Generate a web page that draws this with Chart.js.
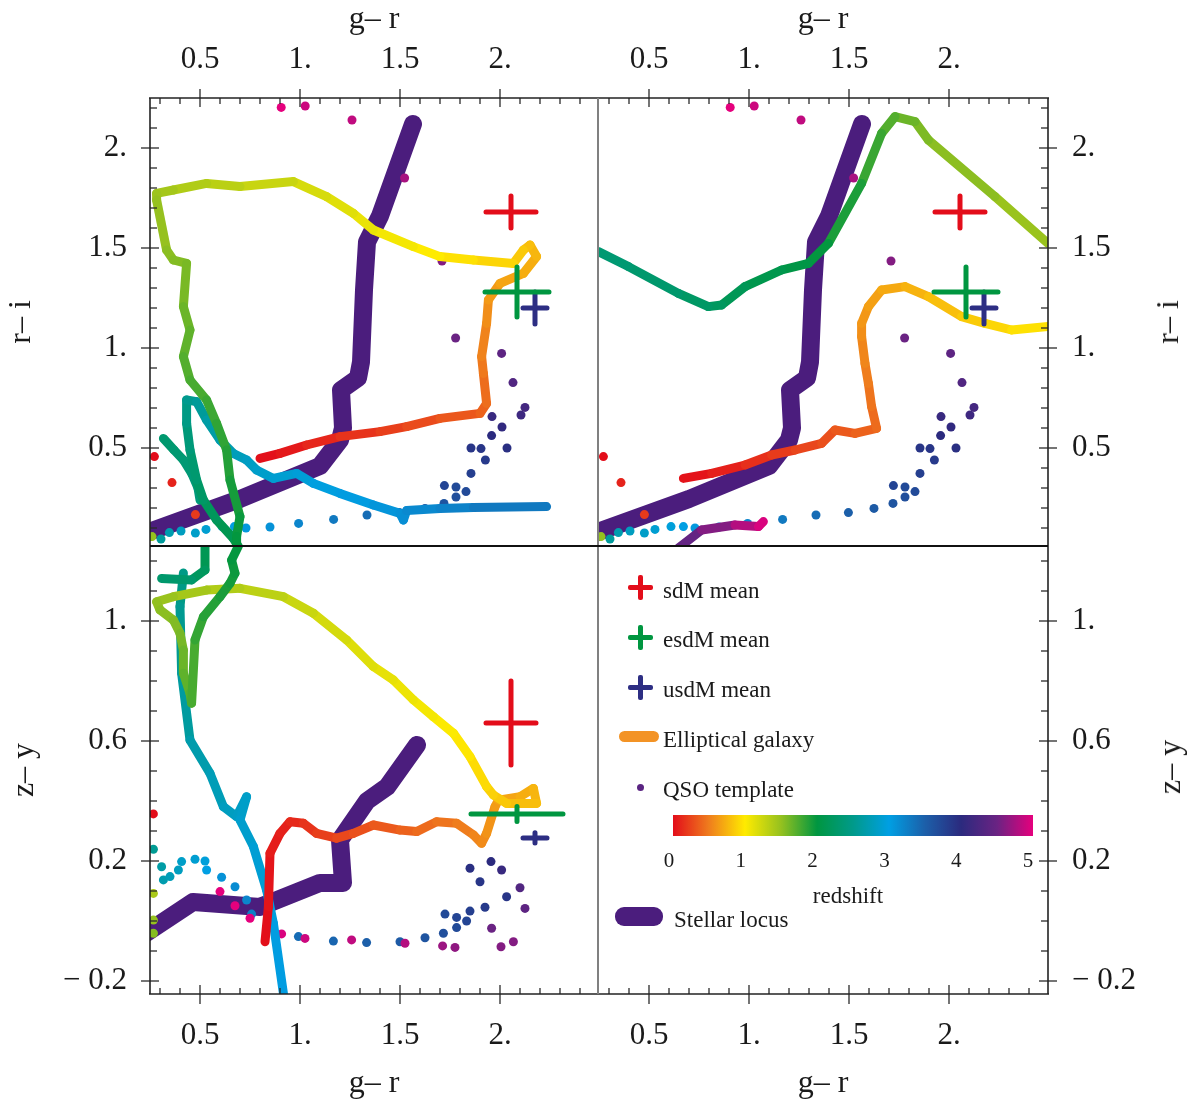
<!DOCTYPE html>
<html><head><meta charset="utf-8">
<script src="https://cdn.jsdelivr.net/npm/chart.js@4.4.0/dist/chart.umd.min.js"></script>
<style>
body{margin:0;background:#fff;width:1196px;height:1102px;position:relative;overflow:hidden;font-family:"Liberation Serif",serif;}
canvas{position:absolute;}
.t{position:absolute;font-family:"Liberation Serif",serif;color:#1a1a1a;white-space:nowrap;}
.rot{transform:translate(-50%,-50%) rotate(-90deg);font-size:32px;line-height:32px;}
.bar{position:absolute;}
</style></head><body>
<canvas id="tl" width="598" height="546" style="left:0;top:0"></canvas>
<canvas id="tr" width="598" height="546" style="left:598px;top:0"></canvas>
<canvas id="bl" width="598" height="556" style="left:0;top:546px"></canvas>
<canvas id="br" width="598" height="556" style="left:598px;top:546px"></canvas>
<div class="bar" style="left:597px;top:98px;width:2px;height:896px;background:#808080"></div>
<div class="bar" style="left:150px;top:545px;width:898px;height:1.5px;background:#111"></div>
<div class="t rot" style="left:1167px;top:322px">r&#8211; i</div>
<div class="t rot" style="left:1169px;top:767px">z&#8211; y</div>
<div id="legend"></div>
<script>
// ---------------- data ----------------
const xTicks = [0.5, 1, 1.5, 2];
const xTickLabels = ['0.5', '1.', '1.5', '2.'];
const riTicks = [0.5, 1, 1.5, 2];
const riTickLabels = ['0.5', '1.', '1.5', '2.'];
const zyTicks = [-0.2, 0.2, 0.6, 1];
const zyTickLabels = ['\u2212 0.2', '0.2', '0.6', '1.'];
const redshiftLabels = ['0', '1', '2', '3', '4', '5'];

// stellar locus (g-r, r-i) and (g-r, z-y)
const locusTop = [[0.23,0.075],[0.7,0.245],[1.1,0.41],[1.2,0.54],[1.215,0.6],[1.205,0.79],[1.29,0.85],[1.305,0.93],[1.32,1.29],[1.335,1.53],[1.4,1.66],[1.565,2.12]];
const locusBot = [[0.22,-0.045],[0.465,0.063],[0.8,0.047],[1.1,0.127],[1.215,0.127],[1.2,0.27],[1.335,0.40],[1.435,0.447],[1.585,0.587]];

// mean positions [g-r, colour, err g-r, err colour]
const sdmTop = [2.055,1.68,0.125,0.08];
const esdmTop = [2.085,1.28,0.16,0.125];
const usdmTop = [2.175,1.20,0.06,0.08];
const sdmBot = [2.055,0.66,0.125,0.14];
const esdmBot = [2.085,0.357,0.23,0.025];
const usdmBot = [2.175,0.277,0.06,0.017];

// QSO template dots [g-r, r-i, redshift]
const qsoTop = [[0.272,0.457,0.0],[0.36,0.327,0.1],[0.477,0.167,0.2],[0.26,0.057,1.5],[0.305,0.045,2.6],[0.347,0.077,2.7],[0.405,0.085,2.8],[0.477,0.075,2.85],[0.53,0.093,2.9],[0.61,0.107,2.95],[0.672,0.107,3.0],[0.73,0.1,3.05],[0.85,0.105,3.1],[0.993,0.123,3.2],[1.168,0.143,3.3],[1.335,0.165,3.4],[1.497,0.177,3.5],[1.625,0.198,3.55],[1.72,0.223,3.6],[1.78,0.255,3.65],[1.83,0.282,3.7],[1.78,0.305,3.7],[1.722,0.312,3.75],[1.855,0.373,3.8],[1.927,0.44,3.85],[1.855,0.5,3.9],[1.905,0.497,3.9],[2.035,0.5,3.95],[1.958,0.562,4.0],[2.01,0.605,4.05],[1.96,0.657,4.1],[2.105,0.665,4.15],[2.125,0.703,4.2],[2.065,0.827,4.3],[2.008,0.973,4.4],[1.778,1.05,4.5],[1.71,1.435,4.6],[1.523,1.85,4.75],[1.26,2.14,4.85],[1.026,2.21,4.9],[0.906,2.203,5.0]];
// QSO template dots [g-r, z-y, redshift]
const qsoBot = [[0.267,0.357,0.0],[0.267,0.092,1.4],[0.267,0.003,1.5],[0.267,-0.041,1.55],[0.267,0.239,2.55],[0.308,0.181,2.65],[0.317,0.137,2.7],[0.35,0.148,2.75],[0.392,0.17,2.8],[0.408,0.198,2.85],[0.475,0.206,2.9],[0.525,0.2,2.95],[0.533,0.17,3.0],[0.608,0.146,3.1],[0.675,0.114,3.15],[0.733,0.07,3.2],[0.758,0.023,3.25],[0.992,-0.052,3.4],[1.167,-0.067,3.45],[1.333,-0.072,3.5],[1.5,-0.069,3.55],[1.625,-0.056,3.6],[1.717,-0.041,3.65],[1.783,-0.022,3.7],[1.725,0.023,3.7],[1.783,0.012,3.75],[1.833,0.0,3.75],[1.85,0.033,3.8],[1.925,0.046,3.85],[2.033,0.081,3.9],[1.9,0.131,3.9],[1.85,0.176,3.95],[1.955,0.198,4.0],[2.008,0.17,4.1],[2.1,0.111,4.3],[2.125,0.042,4.4],[1.958,-0.024,4.5],[2.067,-0.069,4.6],[2.005,-0.086,4.6],[1.775,-0.088,4.65],[1.713,-0.083,4.7],[1.525,-0.074,4.8],[1.258,-0.063,4.85],[1.025,-0.058,4.9],[0.908,-0.043,4.95],[0.75,0.009,5.0],[0.675,0.051,5.0],[0.6,0.098,5.0]];

// galaxy tracks [g-r, colour, redshift]
const galTL1 = [[0.8,0.448,0.0],[0.9,0.473,0.03],[1.033,0.515,0.08],[1.2,0.557,0.14],[1.4,0.582,0.2],[1.533,0.607,0.25],[1.7,0.648,0.3],[1.9,0.673,0.36],[1.933,0.723,0.4],[1.917,0.873,0.46],[1.908,0.957,0.5],[1.933,1.123,0.55],[1.942,1.24,0.6],[2.0,1.323,0.65],[2.117,1.373,0.7],[2.183,1.457,0.74],[2.15,1.515,0.78],[2.117,1.49,0.82],[2.067,1.423,0.87],[1.867,1.44,0.93],[1.7,1.457,0.98],[1.567,1.507,1.02],[1.367,1.59,1.08],[1.267,1.673,1.12],[1.133,1.757,1.17],[0.967,1.832,1.22],[0.7,1.807,1.3],[0.533,1.823,1.35],[0.367,1.79,1.4],[0.283,1.773,1.45],[0.283,1.74,1.47],[0.333,1.49,1.52],[0.367,1.44,1.55],[0.433,1.423,1.57],[0.417,1.207,1.62],[0.45,1.09,1.66],[0.417,0.957,1.7],[0.45,0.84,1.74],[0.533,0.74,1.78],[0.583,0.623,1.82],[0.633,0.49,1.86],[0.65,0.34,1.9],[0.7,0.157,1.95],[0.683,0.057,1.98],[0.683,0.0,2.0]];
const galTL2 = [[0.692,0.007,2.05],[0.667,0.048,2.08],[0.583,0.14,2.15],[0.517,0.24,2.22],[0.483,0.34,2.28],[0.45,0.49,2.35],[0.433,0.623,2.42],[0.433,0.74,2.5],[0.483,0.732,2.55],[0.533,0.64,2.62],[0.6,0.54,2.68],[0.667,0.473,2.74],[0.733,0.44,2.8],[0.783,0.39,2.84],[0.867,0.348,2.88],[0.983,0.373,2.92],[1.067,0.323,2.95],[1.2,0.273,3.0],[1.367,0.215,3.05],[1.5,0.173,3.1],[1.517,0.14,3.12],[1.533,0.187,3.14],[1.7,0.198,3.2],[1.867,0.203,3.25],[2.233,0.207,3.35]];
const galTL3 = [[0.317,0.548,2.3],[0.37,0.49,2.32],[0.417,0.44,2.34],[0.46,0.37,2.36],[0.49,0.3,2.38],[0.5,0.24,2.4]];
const galTR1 = [[0.672,0.348,0.0],[0.813,0.373,0.05],[0.98,0.415,0.12],[1.113,0.465,0.18],[1.23,0.49,0.23],[1.363,0.523,0.28],[1.43,0.59,0.32],[1.53,0.573,0.36],[1.638,0.598,0.4],[1.613,0.707,0.44],[1.597,0.823,0.48],[1.58,0.923,0.52],[1.563,1.057,0.56],[1.563,1.123,0.6],[1.597,1.207,0.64],[1.663,1.29,0.68],[1.78,1.307,0.72],[1.897,1.257,0.77],[2.063,1.157,0.83],[2.18,1.123,0.88],[2.313,1.09,0.93],[2.495,1.107,0.98]];
const galTR2 = [[2.495,1.523,1.45],[2.23,1.757,1.5],[1.897,2.04,1.56],[1.83,2.132,1.6],[1.73,2.157,1.68],[1.663,2.073,1.76],[1.563,1.823,1.86],[1.397,1.523,1.96],[1.297,1.423,2.02],[1.163,1.39,2.06],[0.98,1.307,2.12],[0.863,1.215,2.18],[0.797,1.207,2.22],[0.647,1.273,2.27],[0.397,1.407,2.32],[0.247,1.482,2.35]];
const galTR3 = [[0.647,0.0,4.4],[0.763,0.09,4.5],[0.93,0.115,4.7],[1.047,0.107,4.9],[1.072,0.132,5.0]];
const galBL1 = [[0.825,-0.069,0.0],[0.842,0.048,0.02],[0.85,0.226,0.05],[0.9,0.292,0.08],[0.95,0.331,0.1],[1.017,0.326,0.15],[1.083,0.292,0.2],[1.183,0.276,0.25],[1.267,0.292,0.28],[1.367,0.32,0.32],[1.5,0.303,0.36],[1.583,0.298,0.4],[1.683,0.331,0.44],[1.783,0.326,0.48],[1.867,0.287,0.52],[1.908,0.259,0.55],[1.933,0.292,0.58],[1.975,0.381,0.62],[1.992,0.403,0.66],[2.1,0.414,0.7],[2.167,0.442,0.74],[2.183,0.392,0.77],[2.033,0.392,0.82],[1.967,0.42,0.86],[1.933,0.448,0.9],[1.85,0.548,0.95],[1.767,0.626,1.0],[1.667,0.681,1.03],[1.567,0.737,1.07],[1.467,0.803,1.1],[1.367,0.848,1.13],[1.233,0.937,1.18],[1.067,1.026,1.23],[0.917,1.081,1.28],[0.7,1.109,1.35],[0.533,1.103,1.4],[0.367,1.081,1.45],[0.283,1.064,1.5],[0.3,1.037,1.52],[0.367,1.003,1.55],[0.4,0.959,1.58],[0.417,0.903,1.62],[0.417,0.826,1.66],[0.45,0.759,1.7],[0.458,0.726,1.72],[0.475,0.937,1.8],[0.517,1.014,1.85],[0.6,1.081,1.9],[0.65,1.126,1.93],[0.675,1.159,1.95],[0.658,1.203,1.97],[0.692,1.25,2.0]];
const galBL2 = [[0.525,1.25,2.1],[0.525,1.17,2.15],[0.458,1.137,2.25],[0.308,1.142,2.35]];
const galBL3 = [[0.417,1.16,2.45],[0.4,1.048,2.5],[0.408,0.826,2.58],[0.45,0.603,2.66],[0.55,0.492,2.72],[0.617,0.381,2.78],[0.683,0.348,2.81],[0.733,0.414,2.84],[0.7,0.337,2.86],[0.767,0.248,2.89],[0.833,0.103,2.94],[0.867,-0.008,2.98],[0.917,-0.241,3.05]];

// ---------------- styles ----------------
const CMAP = [[0,'#e30d1a'],[0.5,'#ef7d1d'],[1,'#ffeb00'],[1.5,'#95c11f'],[2,'#009640'],[2.5,'#009a8a'],[3,'#009fe3'],[3.5,'#1c5fa9'],[4,'#2b2a7e'],[4.5,'#6a2383'],[5,'#e5007d']];
const LOCUS = '#4b1d7d', RED='#e30d1a', GREEN='#009640', NAVY='#2d2e83', ORANGE='#f39325';
function hex(c){return [1,3,5].map(i=>parseInt(c.substr(i,2),16));}
function cmap(z){
  z=Math.max(0,Math.min(5,z));
  for(let i=0;i<CMAP.length-1;i++){
    const a=CMAP[i],b=CMAP[i+1];
    if(z<=b[0]){const t=(z-a[0])/(b[0]-a[0]);const A=hex(a[1]),B=hex(b[1]);
      return 'rgb('+A.map((v,k)=>Math.round(v+(B[k]-v)*t)).join(',')+')';}
  }
  return CMAP[CMAP.length-1][1];
}
const pts = arr => arr.map(p=>({x:p[0],y:p[1]}));
function trackDS(arr){
  return {data:pts(arr),borderWidth:9,pointRadius:0,tension:0,clip:0,order:1,
    borderCapStyle:'round',borderJoinStyle:'round',borderColor:cmap(arr[0][2]),
    segment:{borderColor:c=>cmap((arr[c.p0DataIndex][2]+arr[c.p1DataIndex][2])/2)}};
}
function locusDS(arr){
  return {data:pts(arr),borderWidth:18,borderColor:LOCUS,pointRadius:0,tension:0,clip:0,order:3,borderCapStyle:'round',borderJoinStyle:'round'};
}
function dotsDS(arr){
  return {data:pts(arr),showLine:false,pointRadius:4.5,pointBorderWidth:0,pointBackgroundColor:arr.map(p=>cmap(p[2])),clip:0,order:2};
}
function crossDS(c,color){
  return {data:[{x:c[0]-c[2],y:c[1]},{x:c[0]+c[2],y:c[1]},{x:c[0],y:null},{x:c[0],y:c[1]-c[3]},{x:c[0],y:c[1]+c[3]}],
    borderColor:color,borderWidth:5,pointRadius:0,spanGaps:false,borderCapStyle:'round',clip:0,order:0};
}

Chart.defaults.font.family = '"Liberation Serif", serif';
Chart.defaults.color = '#1a1a1a';

const framePlugin = {
  id:'frame',
  afterDraw(chart,args,o){
    const {ctx,chartArea:a}=chart, xs=chart.scales.x, ys=chart.scales.y;
    ctx.save(); ctx.strokeStyle='#2a2a2a'; ctx.lineWidth=1.3; ctx.lineCap='butt';
    const seg=(x1,y1,x2,y2)=>{ctx.beginPath();ctx.moveTo(x1,y1);ctx.lineTo(x2,y2);ctx.stroke();};
    for(let k=3;k<=24;k++){
      const v=k/10, p=xs.getPixelForValue(v), maj=(k%5===0);
      if(o.top){ if(maj) seg(p,a.top-9,p,a.top+9); else seg(p,a.top,p,a.top+6); }
      if(o.bottom){ if(maj) seg(p,a.bottom-9,p,a.bottom+10); else seg(p,a.bottom,p,a.bottom-6); }
    }
    const ks = o.zy ? [-2,12] : [1,22];
    for(let k=ks[0];k<=ks[1];k++){
      const v=k/10, p=ys.getPixelForValue(v);
      const maj = o.zy ? ((k+2)%4===0) : (k%5===0);
      if(o.left){ if(maj) seg(a.left-9,p,a.left+9,p); else seg(a.left,p,a.left+7,p); }
      if(o.right){ if(maj) seg(a.right-9,p,a.right+9,p); else seg(a.right,p,a.right-7,p); }
    }
    ctx.lineWidth=1.6; ctx.strokeStyle='#222';
    if(o.top) seg(a.left-1,a.top,a.right+1,a.top);
    if(o.bottom) seg(a.left-1,a.bottom,a.right+1,a.bottom);
    if(o.left) seg(a.left,a.top,a.left,a.bottom);
    if(o.right) seg(a.right,a.top,a.right,a.bottom);
    ctx.restore();
  }
};

function xScale(pos,min,max){
  return {type:'linear',position:pos,min,max,
    afterBuildTicks:s=>{s.ticks=xTicks.map(v=>({value:v}));},
    afterFit:s=>{s.height = pos==='top'?98:108; s.paddingLeft=0; s.paddingRight=0; s.paddingTop=0; s.paddingBottom=0;},
    ticks:{callback:(v,i)=>xTickLabels[i],padding:pos==='top'?20:23,autoSkip:false,maxRotation:0,minRotation:0,font:{size:31}},
    grid:{display:false,drawTicks:false,tickLength:0},border:{display:false},
    title:{display:true,text:'g\u2013 r',font:{size:32,lineHeight:1},padding:pos==='top'?{top:4,bottom:0}:{top:0,bottom:2}}};
}
function yScale(pos,zy,showTitle){
  const T = zy?zyTicks:riTicks, L = zy?zyTickLabels:riTickLabels;
  return {type:'linear',position:pos,min:zy?-0.24333:0.01,max:zy?1.25:2.25,
    afterBuildTicks:s=>{s.ticks=T.map(v=>({value:v}));},
    afterFit:s=>{s.width = pos==='left'?150:148; s.paddingTop=0; s.paddingBottom=0; s.paddingLeft=0; s.paddingRight=0;},
    ticks:{callback:(v,i)=>L[i],padding:pos==='left'?23:24,autoSkip:false,font:{size:31}},
    grid:{display:false,drawTicks:false,tickLength:0},border:{display:false},
    title:{display:showTitle,text:zy?'z\u2013 y':'r\u2013 i',font:{size:32,lineHeight:1},padding:{top:zy?9:6,bottom:0}}};
}
function makeChart(id,datasets,xs,ys,frame){
  return new Chart(document.getElementById(id),{
    type:'line',data:{datasets},
    options:{responsive:false,animation:false,devicePixelRatio:1,events:[],
      layout:{padding:0,autoPadding:false},
      plugins:{legend:{display:false},tooltip:{enabled:false},frame},
      scales:{x:xs,y:ys}},
    plugins:[framePlugin]});
}

makeChart('tl',[locusDS(locusTop),dotsDS(qsoTop),trackDS(galTL1),trackDS(galTL2),trackDS(galTL3),crossDS(sdmTop,RED),crossDS(esdmTop,GREEN),crossDS(usdmTop,NAVY)],
  xScale('top',0.25,2.49),yScale('left',false,true),{top:true,left:true});
makeChart('tr',[locusDS(locusTop),dotsDS(qsoTop),trackDS(galTR1),trackDS(galTR2),trackDS(galTR3),crossDS(sdmTop,RED),crossDS(esdmTop,GREEN),crossDS(usdmTop,NAVY)],
  xScale('top',0.245,2.495),yScale('right',false,false),{top:true,right:true});
makeChart('bl',[locusDS(locusBot),dotsDS(qsoBot),trackDS(galBL1),trackDS(galBL2),trackDS(galBL3),crossDS(sdmBot,RED),crossDS(esdmBot,GREEN),crossDS(usdmBot,NAVY)],
  xScale('bottom',0.25,2.49),yScale('left',true,true),{bottom:true,left:true,zy:true});
makeChart('br',[],
  xScale('bottom',0.245,2.495),yScale('right',true,false),{bottom:true,right:true,zy:true});

// ---------------- legend (HTML) ----------------
const lg = document.getElementById('legend');
function txt(s,left,baseline,size,center){
  const d=document.createElement('div'); d.className='t'; d.textContent=s;
  d.style.fontSize=size+'px'; d.style.lineHeight=size+'px';
  d.style.top=(baseline-0.8375*size)+'px';
  if(center){d.style.left=left+'px';d.style.transform='translateX(-50%)';} else d.style.left=left+'px';
  lg.appendChild(d);
}
function box(l,t,w,h,c,r){const d=document.createElement('div');d.className='bar';
  Object.assign(d.style,{left:l+'px',top:t+'px',width:w+'px',height:h+'px',background:c,borderRadius:(r||0)+'px'});lg.appendChild(d);return d;}
function cross(cx,cy,c){box(cx-12.5,cy-2.5,25,5,c,2);box(cx-2.5,cy-12.5,5,25,c,2);}
const legendItems = ['sdM mean','esdM mean','usdM mean','Elliptical galaxy','QSO template','Stellar locus'];
cross(640,587,RED); txt(legendItems[0],663,598,23);
cross(640,637,GREEN); txt(legendItems[1],663,647,23);
cross(640,687,NAVY); txt(legendItems[2],663,697,23);
box(619,731,40,11,ORANGE,6); txt(legendItems[3],663,747,23);
box(636.5,783.5,7,7,'#5a2482',4); txt(legendItems[4],663,797,23);
const cb = box(673,815,360,21,'#000',0);
cb.style.background='linear-gradient(to right,'+CMAP.map(s=>s[1]+' '+(s[0]*20)+'%').join(',')+')';
redshiftLabels.forEach((s,i)=>txt(s,669+i*71.8,868,21,true));
txt('redshift',848,903,23,true);
box(615,907,48,19,LOCUS,9); txt(legendItems[5],674,927,23);
</script>
</body></html>
